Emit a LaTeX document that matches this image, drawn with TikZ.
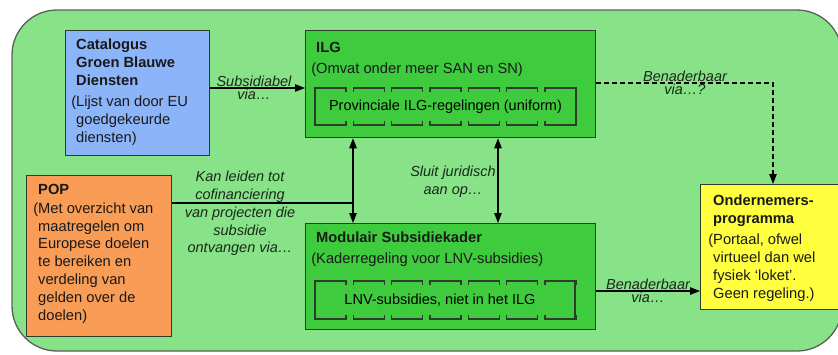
\documentclass[tikz,border=0pt]{standalone}
\usepackage{fontspec}
\setmainfont{Liberation Sans}
\usetikzlibrary{arrows.meta, positioning, calc}

\definecolor{bggreen}{RGB}{136,226,136}
\definecolor{ilggreen}{RGB}{62,204,62}
\definecolor{catblue}{RGB}{140,180,248}
\definecolor{poporange}{RGB}{248,156,86}
\definecolor{ondyellow}{RGB}{255,255,64}
\definecolor{boxline}{RGB}{45,60,45}
\definecolor{lbltext}{RGB}{25,40,25}

\tikzset{
  box/.style={draw=boxline, line width=1.3pt, anchor=north west, inner sep=0pt},
  boxtext/.style={anchor=north west, align=left, inner sep=0pt, text=black!90,
    font=\fontsize{14.7}{17.8}\selectfont},
  lbl/.style={align=center, inner sep=0pt, text=lbltext,
    font=\fontsize{14.5}{17.8}\selectfont\itshape},
  modline/.style={draw=boxline, line width=1.1pt},
  conn/.style={line width=1.1pt, -{Triangle[length=10pt,width=7.5pt]}},
  twoway/.style={line width=1.1pt, {Triangle[length=10pt,width=7.5pt]}-{Triangle[length=10pt,width=7.5pt]}},
}

\begin{document}
\begin{tikzpicture}[x=1pt, y=-1pt]
    \useasboundingbox (0,0) rectangle (838,354);

    % Background
    \draw[fill=bggreen, draw=boxline!80, line width=1.3pt, rounded corners=45pt] (12,10) rectangle (842,351);

    % Catalogus
    \node[box, fill=catblue, minimum width=144pt, minimum height=125pt] (cat) at (65,30) {};
    \node[boxtext] (cattxt) at (76,39) {\textbf{Catalogus}\\\textbf{Groen Blauwe}\\\textbf{Diensten}\\[3.5pt]
        \llap{(}Lijst van door EU\\goedgekeurde\\diensten)};

    % POP
    \node[box, fill=poporange, minimum width=145pt, minimum height=161pt] (pop) at (26,175) {};
    \node[boxtext] (poptxt) at (38,184) {\textbf{POP}\\[1pt]
        \llap{(}Met overzicht van\\maatregelen om\\Europese doelen\\te bereiken en\\verdeling van\\gelden over de\\doelen)};

    % ILG
    \node[box, fill=ilggreen, minimum width=290pt, minimum height=107pt] (ilg) at (305,30) {};
    \node[boxtext] (ilgtxt) at (316,42) {\textbf{ILG}\\[3pt]\llap{(}Omvat onder meer SAN en SN)};
    \node[inner sep=0pt, minimum width=261pt, minimum height=37pt, font=\fontsize{14.5}{17.8}\selectfont]
        (ilgin) at (445.5,106.5) {Provinciale ILG-regelingen (uniform)};
    \draw[modline] (315,88) -- (315,125);
    \draw[modline] (576,88) -- (576,125);
    \foreach \i in {0,...,6} {
        \pgfmathsetmacro{\xa}{315+\i*38.33}
        \pgfmathsetmacro{\xb}{\xa+31}
        \draw[modline] (\xa,92) -- (\xa,88) -- (\xb,88) -- (\xb,92);
        \draw[modline] (\xa,121) -- (\xa,125) -- (\xb,125) -- (\xb,121);
    }

    % Modulair Subsidiekader
    \node[box, fill=ilggreen, minimum width=290pt, minimum height=106pt] (mod) at (305,223) {};
    \node[boxtext] (modtxt) at (316,232) {\textbf{Modulair Subsidiekader}\\[3pt]\llap{(}Kaderregeling voor LNV-subsidies)};
    \node[inner sep=0pt, minimum width=260pt, minimum height=38pt, font=\fontsize{14.5}{17.8}\selectfont]
        (modin) at (440,300) {LNV-subsidies, niet in het ILG};
    \draw[modline] (315,281) -- (315,319);
    \draw[modline] (575,281) -- (575,319);
    \foreach \i in {0,...,6} {
        \pgfmathsetmacro{\xa}{315+\i*38.33}
        \pgfmathsetmacro{\xb}{\xa+31}
        \draw[modline] (\xa,285) -- (\xa,281) -- (\xb,281) -- (\xb,285);
        \draw[modline] (\xa,315) -- (\xa,319) -- (\xb,319) -- (\xb,315);
    }

    % Ondernemersprogramma
    \node[box, fill=ondyellow, minimum width=150pt, minimum height=125pt] (ond) at (700,184) {};
    \node[boxtext] (ondtxt) at (713,195) {\textbf{Ondernemers-}\\\textbf{programma}\\[3.5pt]
        \llap{(}Portaal, ofwel\\virtueel dan wel\\fysiek `loket'.\\Geen regeling.)};

    % Connectors
    \draw[conn] (cat.east |- 0,88) -- (ilg.west |- 0,88);
    \node[lbl, above=1pt] (sublbl) at (254,88) {Subsidiabel};
    \node[lbl, below=1pt] (subvia) at (254,88) {via\dots};

    \coordinate (popjoin) at (353,203);
    \draw[line width=1.1pt] (pop.east |- popjoin) -- (popjoin);
    \draw[twoway] (ilg.south -| popjoin) -- (mod.north -| popjoin);
    \node[lbl, anchor=north] (poplbl) at (240,171) {Kan leiden tot\\cofinanciering\\van projecten die\\subsidie\\ontvangen via\dots};

    \draw[twoway] (ilg.south -| 498,0) -- (mod.north -| 498,0);
    \node[lbl, anchor=north] (sluitlbl) at (453,166) {Sluit juridisch\\aan op\dots};

    \coordinate (dashbend) at (773,83);
    \draw[conn, dashed, dash pattern=on 5pt off 3pt] (ilg.east |- dashbend) -- (dashbend) -- (ond.north -| dashbend);
    \node[lbl, above=1pt] (benlbl) at (685,83) {Benaderbaar};
    \node[lbl, below=1pt] (benvia) at (685,83) {via\dots?};

    \draw[conn] (mod.east |- 0,291) -- (ond.west |- 0,291);
    \node[lbl, above=1pt] (ben2lbl) at (648,291) {Benaderbaar};
    \node[lbl, below=1pt] (ben2via) at (648,291) {via\dots};
\end{tikzpicture}
\end{document}
